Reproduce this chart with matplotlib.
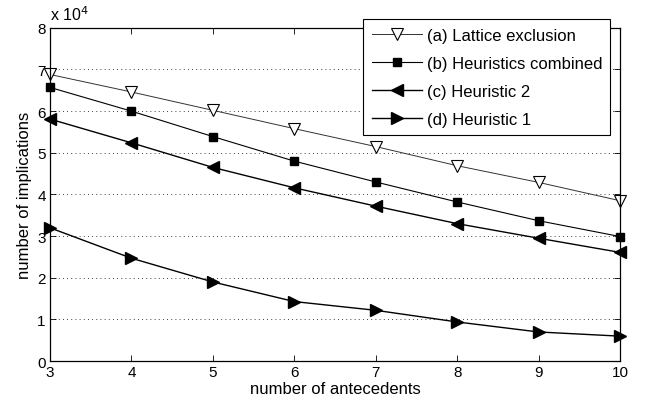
import matplotlib
matplotlib.use('Agg')
import matplotlib.pyplot as plt

antecedents = [3, 4, 5, 6, 7, 8, 9, 10]
lattice = [6.88, 6.46, 6.02, 5.58, 5.15, 4.69, 4.29, 3.85]
combined = [6.57, 6.0, 5.39, 4.8, 4.3, 3.82, 3.37, 2.99]
heuristic2 = [5.81, 5.24, 4.65, 4.16, 3.72, 3.30, 2.95, 2.61]
heuristic1 = [3.2, 2.47, 1.9, 1.43, 1.22, 0.94, 0.70, 0.6]

plt.rcParams['font.family'] = ['Liberation Sans', 'DejaVu Sans']
plt.rcParams['font.size'] = 11

fig = plt.figure(figsize=(6.46, 4.06), dpi=100)
ax = fig.add_axes([0.0774, 0.108, 0.8826, 0.821])

ax.plot(antecedents, lattice, color='#333333', lw=0.7, marker='v', ms=8,
        mfc='white', mec='black', mew=0.8, label='(a) Lattice exclusion', clip_on=False)
ax.plot(antecedents, combined, color='black', lw=0.8, marker='s', ms=6,
        mfc='black', mec='black', label='(b) Heuristics combined', clip_on=False)
ax.plot(antecedents, heuristic2, color='black', lw=1.0, marker='<', ms=9,
        mfc='black', mec='black', label='(c) Heuristic 2', clip_on=False)
ax.plot(antecedents, heuristic1, color='black', lw=1.0, marker='>', ms=9,
        mfc='black', mec='black', label='(d) Heuristic 1', clip_on=False)

ax.set_xlim(3, 10)
ax.set_ylim(0, 8)
ax.set_xticks(antecedents)
ax.set_yticks(range(0, 9))
ax.tick_params(direction='in', top=True, right=True, length=4, width=0.6, pad=3)
ax.yaxis.grid(True, linestyle=(0, (1, 4)), color='black', lw=0.6)
for s in ax.spines.values():
    s.set_linewidth(0.9)

ax.set_xlabel('number of antecedents', fontsize=12, labelpad=1)
ax.set_ylabel('number of implications', fontsize=12, labelpad=4)
ax.text(0.0, 1.015, r'x 10$^4$', transform=ax.transAxes, ha='left', va='bottom',
        fontsize=11.5)

leg = ax.legend(loc='upper right', bbox_to_anchor=(0.983, 1.025), borderaxespad=0,
                fancybox=False, framealpha=1, edgecolor='black', handlelength=3,
                labelspacing=0.78, borderpad=0.5, handletextpad=0.3, fontsize=12)
leg.get_frame().set_linewidth(0.8)
leg.set_zorder(5)

fig.savefig('out.png', dpi=100)
